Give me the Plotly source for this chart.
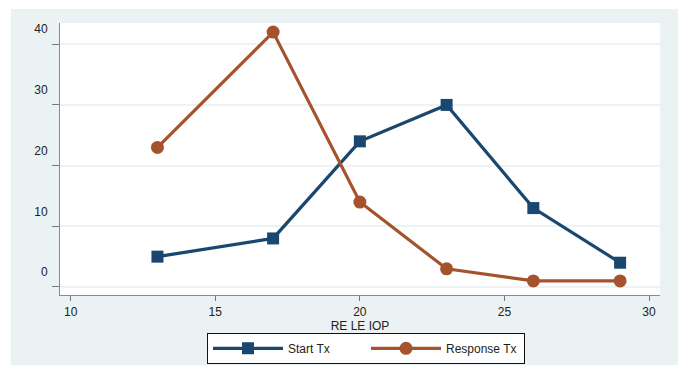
import plotly.graph_objects as go

# RE LE IOP bins and counts per treatment group
iop = [13, 17, 20, 23, 26, 29]
start_tx = [5, 8, 24, 30, 13, 4]
response_tx = [23, 42, 14, 3, 1, 1]

x_ticks = [10, 15, 20, 25, 30]
y_ticks = [0, 10, 20, 30, 40]

NAVY = "#1a476f"
SIENNA = "#a4532c"
REGION = "#eaf2f3"
FONT = "Liberation Sans, Arial, sans-serif"

fig = go.Figure()
fig.add_trace(go.Scatter(
    x=iop, y=start_tx, name="Start Tx", mode="lines+markers",
    line=dict(color=NAVY, width=3.2),
    marker=dict(symbol="square", size=12, color=NAVY),
))
fig.add_trace(go.Scatter(
    x=iop, y=response_tx, name="Response Tx", mode="lines+markers",
    line=dict(color=SIENNA, width=3.2),
    marker=dict(symbol="circle", size=13, color=SIENNA),
))

# white outer border around the tinted graph region
white_strips = [
    dict(x0=-0.3, x1=1.3, y0=1.0515, y1=1.3),
    dict(x0=-0.3, x1=-0.082, y0=-0.4, y1=1.3),
    dict(x0=1.03, x1=1.3, y0=-0.4, y1=1.3),
    dict(x0=-0.3, x1=1.3, y0=-0.4, y1=-0.258),
]
shapes = [
    dict(type="rect", xref="paper", yref="paper", layer="below",
         fillcolor="white", line=dict(width=0), **s)
    for s in white_strips
]

fig.update_layout(
    width=680, height=367,
    margin=dict(l=60, r=20, t=23, b=72, autoexpand=False),
    paper_bgcolor=REGION,
    plot_bgcolor="white",
    font=dict(family=FONT, size=12, color="#222222"),
    shapes=shapes,
    showlegend=True,
    legend=dict(
        orientation="h", x=0.51, y=0.051, xref="paper", yref="container",
        xanchor="center", yanchor="middle",
        bgcolor="white", bordercolor="#111111", borderwidth=1,
        font=dict(family=FONT, size=12, color="#222222"),
        itemwidth=70, entrywidth=73, entrywidthmode="pixels", tracegroupgap=0,
    ),
    xaxis=dict(
        range=[9.63, 30.38], tickvals=x_ticks, ticktext=[str(v) for v in x_ticks],
        ticks="outside", ticklen=5, tickcolor="#777777", tickwidth=1,
        showline=True, linecolor="#8a8a8a", linewidth=1,
        showgrid=False, zeroline=False, automargin=False,
        title=dict(text="RE LE IOP", standoff=2, font=dict(size=12)),
        ticklabelstandoff=1,
    ),
    yaxis=dict(
        range=[-1.32, 43.5], tickvals=y_ticks, ticktext=[str(v) for v in y_ticks],
        ticks="outside", ticklen=7, tickcolor="#777777", tickwidth=1,
        showline=True, linecolor="#8a8a8a", linewidth=1,
        showgrid=True, gridcolor="#edf2f3", gridwidth=1.5,
        zeroline=False, automargin=False,
        ticklabelshift=-15, ticklabelstandoff=2,
    ),
)

fig.write_html("out.html")
